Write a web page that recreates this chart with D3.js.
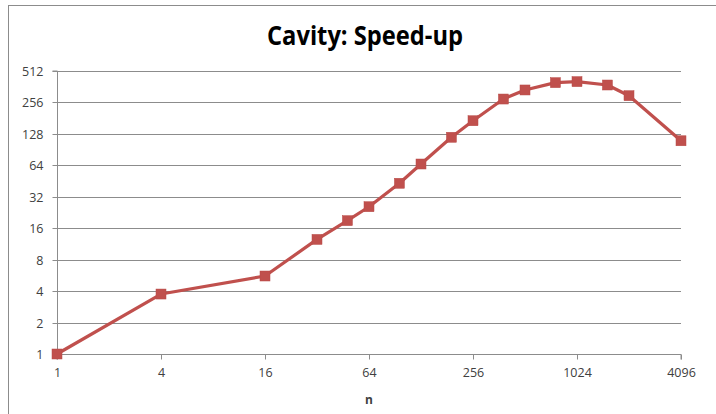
<!DOCTYPE html>
<html>
<head>
<meta charset="utf-8">
<script src="https://cdn.jsdelivr.net/npm/d3@7"></script>
<style>
  html, body { margin: 0; padding: 0; background: #fff; }
  svg { display: block; }
  text { font-family: "Open Sans", "Liberation Sans", sans-serif; }
</style>
</head>
<body>
<svg id="chart" width="716" height="414"></svg>
<script>
// Processor count n and measured speed-up for the cavity problem
const nValues = [1, 4, 16, 32, 48, 64, 96, 128, 192, 256, 384, 512, 768, 1024, 1536, 2048, 4096];
const speedup = [1, 3.75, 5.58, 12.5, 18.9, 25.7, 43.1, 65.9, 118.8, 171, 276, 337, 396, 405, 376, 297, 110];
const xTicks = [1, 4, 16, 64, 256, 1024, 4096];
const yTicks = [1, 2, 4, 8, 16, 32, 64, 128, 256, 512];
const title = "Cavity: Speed-up";
const xTitle = "n";

const svg = d3.select("#chart");
const W = 716, H = 414;
const plot = { left: 57, right: 681, top: 71, bottom: 354 };

// outer chart frame
svg.append("rect")
  .attr("x", 8.5).attr("y", 5.5)
  .attr("width", W + 10).attr("height", H + 10)
  .attr("fill", "#fff").attr("stroke", "#8c8c8c").attr("stroke-width", 1);

const x = d3.scaleLog().base(2).domain([1, 4096]).range([plot.left, plot.right]);
const y = d3.scaleLog().base(2).domain([1, 512]).range([plot.bottom, plot.top]);

// horizontal gridlines
svg.append("g")
  .selectAll("line")
  .data(yTicks.filter(d => d !== 1))
  .join("line")
  .attr("x1", plot.left).attr("x2", plot.right)
  .attr("y1", d => Math.round(y(d)) + 0.5).attr("y2", d => Math.round(y(d)) + 0.5)
  .attr("stroke", "#8c8c8c").attr("stroke-width", 1);

// y axis
const yAxis = svg.append("g")
  .attr("transform", `translate(${plot.left + 0.5},0)`)
  .call(d3.axisLeft(y).tickValues(yTicks).tickFormat(d3.format("d")).tickSize(5).tickPadding(6)
        .offset(0));
yAxis.select(".domain").attr("stroke", "#8c8c8c");
yAxis.selectAll(".tick line").attr("stroke", "#8c8c8c");
yAxis.selectAll(".tick").attr("transform", d => `translate(0,${Math.round(y(d)) + 0.5})`);
yAxis.selectAll("text").attr("font-size", 12.5).attr("fill", "#404040")
  .attr("font-family", "'Open Sans', sans-serif").attr("dx", -3);

// x axis
const xAxis = svg.append("g")
  .attr("transform", `translate(0,${plot.bottom + 0.5})`)
  .call(d3.axisBottom(x).tickValues(xTicks).tickFormat(d3.format("d")).tickSize(5).tickPadding(9)
        .offset(0));
xAxis.select(".domain").attr("stroke", "#8c8c8c");
xAxis.selectAll(".tick line").attr("stroke", "#8c8c8c");
xAxis.selectAll(".tick").attr("transform", d => `translate(${Math.round(x(d)) + 0.5},0)`);
xAxis.selectAll("text").attr("font-size", 12.5).attr("fill", "#404040")
  .attr("font-family", "'Open Sans', sans-serif");

// series line
const pts = nValues.map((n, i) => [n, speedup[i]]);
svg.append("path")
  .datum(pts)
  .attr("fill", "none")
  .attr("stroke", "#c0504d")
  .attr("stroke-width", 3.2)
  .attr("stroke-linejoin", "round")
  .attr("d", d3.line().x(d => x(d[0])).y(d => y(d[1])));

// square markers
const ms = 10;
svg.append("g")
  .selectAll("rect")
  .data(pts)
  .join("rect")
  .attr("x", d => x(d[0]) - ms / 2)
  .attr("y", d => y(d[1]) - ms / 2)
  .attr("width", ms).attr("height", ms)
  .attr("fill", "#c0504d")
  .attr("stroke", "#b84a47").attr("stroke-width", 0.5);

// title (condensed to the header width)
svg.append("text")
  .attr("x", 267).attr("y", 45)
  .attr("text-anchor", "start")
  .attr("font-size", 27).attr("font-weight", "bold").attr("fill", "#000")
  .attr("textLength", 196).attr("lengthAdjust", "spacingAndGlyphs")
  .text(title);

// x axis title
svg.append("text")
  .attr("x", (plot.left + plot.right) / 2).attr("y", 404)
  .attr("text-anchor", "middle")
  .attr("font-size", 12).attr("font-weight", "bold").attr("fill", "#404040")
  .text(xTitle);
</script>
</body>
</html>
